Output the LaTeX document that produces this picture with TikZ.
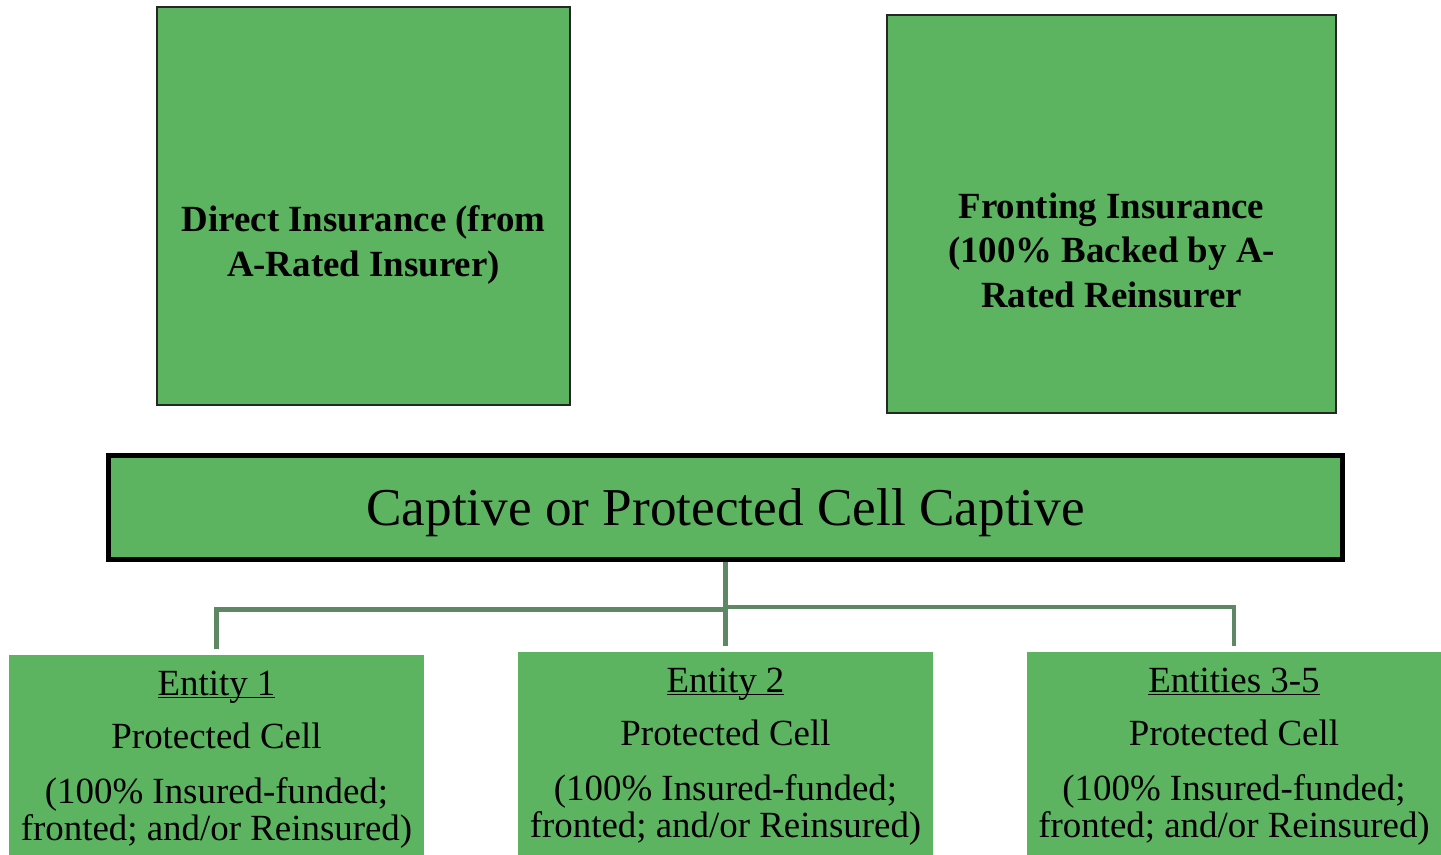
\documentclass[tikz,border=0pt]{standalone}
\usepackage{fontspec}
\setmainfont{Liberation Serif}
\usetikzlibrary{positioning}
\definecolor{cellgreen}{HTML}{5CB460}
\definecolor{linkgreen}{HTML}{5E8764}
\tikzset{
  topbox/.style={draw=black!85,line width=0.7pt,fill=cellgreen,inner sep=0pt,minimum height=7.96cm},
  captivebox/.style={draw=black,line width=0.1cm,fill=cellgreen,inner sep=0pt,minimum width=24.68cm,minimum height=2.1cm},
  cellbox/.style={fill=cellgreen,inner sep=0pt,minimum width=8.3cm,minimum height=4.06cm},
  toptext/.style={anchor=base,align=center,inner sep=0pt,font=\fontsize{21pt}{0.89cm}\selectfont\bfseries},
  celltext/.style={anchor=base,align=center,inner sep=0pt,font=\fontsize{21pt}{0.74cm}\selectfont},
  link/.style={draw=linkgreen,line width=0.09cm,shorten >=0.12cm}
}

\begin{document}
\begin{tikzpicture}[x=0.02cm,y=-0.02cm]
    \useasboundingbox (0,0) rectangle (1441,855);

    \node[topbox,minimum width=8.26cm] (direct) at (363.5,206) {};
    \node[toptext] (directtxt) at (363.5,276) {Direct Insurance (from\\A-Rated Insurer)};

    \node[topbox,minimum width=8.98cm] (fronting) at (1111.5,214) {};
    \node[toptext] (frontingtxt) at (1111.5,307) {Fronting Insurance\\(100\% Backed by A-\\Rated Reinsurer};

    \node[captivebox] (captive) at (725.5,507.5) {};
    \node[anchor=base,inner sep=0pt,font=\fontsize{30.3pt}{36pt}\selectfont] (captivetxt) at (725.5,525) {Captive or Protected Cell Captive};

    \node[cellbox,minimum height=4cm] (e1) at (216.5,755) {};
    \node[cellbox] (e2) at (725.5,753.5) {};
    \node[cellbox,minimum width=8.28cm] (e3) at (1234,753.5) {};

    \node[celltext] (e1txt) at (216.5,840) {\underbar{Entity 1}\\[0.32cm]Protected Cell\\[0.36cm](100\% Insured-funded;\\fronted; and/or Reinsured)};
    \node[celltext] (e2txt) at (725.5,837) {\underbar{Entity 2}\\[0.32cm]Protected Cell\\[0.36cm](100\% Insured-funded;\\fronted; and/or Reinsured)};
    \node[celltext] (e3txt) at (1234,837) {\underbar{Entities 3-5}\\[0.32cm]Protected Cell\\[0.36cm](100\% Insured-funded;\\fronted; and/or Reinsured)};

    \draw[link] (captive.south) -- ++(0,47) -| (e1.north);
    \draw[link] (captive.south) -- (e2.north);
    \draw[link] (captive.south) -- ++(0,44.5) -| (e3.north);
\end{tikzpicture}
\end{document}
